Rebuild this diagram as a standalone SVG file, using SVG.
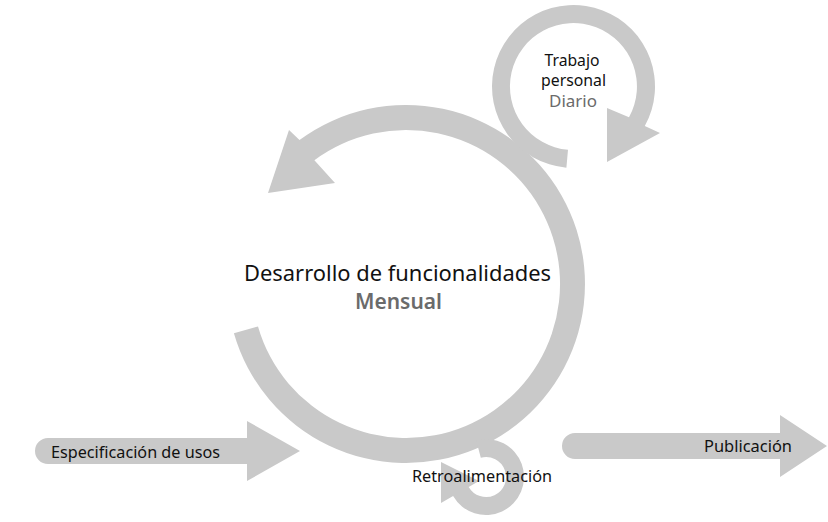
<svg xmlns="http://www.w3.org/2000/svg" width="828" height="522" viewBox="0 0 828 522">
<style>
.shape{fill:#c9c9c9;stroke:none}
.t{font-family:"Noto Sans","Open Sans","Liberation Sans",sans-serif;fill:#111}
.g{fill:#6b6b6b}
</style>
<rect width="828" height="522" fill="#fff"/>
<g id="connectors">
<path id="loop-mensual" class="shape" d="M 233.9 333.3 A 179 179 0 1 0 299.5 140.1 L 289 130 L 268 193 L 335 183 L 314.4 160.2 A 154 154 0 1 1 258 326.4 Z"/>
<path id="loop-diario" class="shape" d="M 566.4 167.7 A 81.5 81.5 0 1 1 644.8 126 L 660 133 L 607 162 L 607 108 L 629 117.3 A 63.5 63.5 0 1 0 568 149.8 Z"/>
<path id="loop-retro" class="shape" d="M 476.2 440.3 A 38 38 0 1 1 453.1 496 L 441 503 L 441 462 L 479 481 L 468.7 487 A 20 20 0 1 0 480.8 457.7 Z"/>
<path id="arrow-in" class="shape" d="M 48 438 L 247 438 L 247 421 L 300 451 L 247 481 L 247 464 L 48 464 A 13 13 0 0 1 48 438 Z"/>
<path id="arrow-out" class="shape" d="M 575 433 L 780 433 L 780 415 L 827 446 L 780 477 L 780 459 L 575 459 A 13 13 0 0 1 575 433 Z"/>
</g>
<g id="node-mensual">
<text class="t" x="397.5" y="281" font-size="21" text-anchor="middle" textLength="307" lengthAdjust="spacingAndGlyphs">Desarrollo de funcionalidades</text>
<text class="t g" x="398.5" y="309" font-size="21" font-weight="600" text-anchor="middle" textLength="87" lengthAdjust="spacingAndGlyphs">Mensual</text>
</g>
<g id="node-diario">
<text class="t" x="572" y="66" font-size="16" text-anchor="middle" textLength="55" lengthAdjust="spacingAndGlyphs">Trabajo</text>
<text class="t" x="573.5" y="86" font-size="16" text-anchor="middle" textLength="65" lengthAdjust="spacingAndGlyphs">personal</text>
<text class="t g" x="573" y="107" font-size="16" text-anchor="middle" textLength="48" lengthAdjust="spacingAndGlyphs">Diario</text>
</g>
<g id="node-especificacion">
<text class="t" x="51" y="458" font-size="16" textLength="169" lengthAdjust="spacingAndGlyphs">Especificación de usos</text>
</g>
<g id="node-publicacion">
<text class="t" x="704" y="452" font-size="16" textLength="88" lengthAdjust="spacingAndGlyphs">Publicación</text>
</g>
<g id="node-retro">
<text class="t" x="412" y="482" font-size="16" textLength="140" lengthAdjust="spacingAndGlyphs">Retroalimentación</text>
</g>
</svg>
